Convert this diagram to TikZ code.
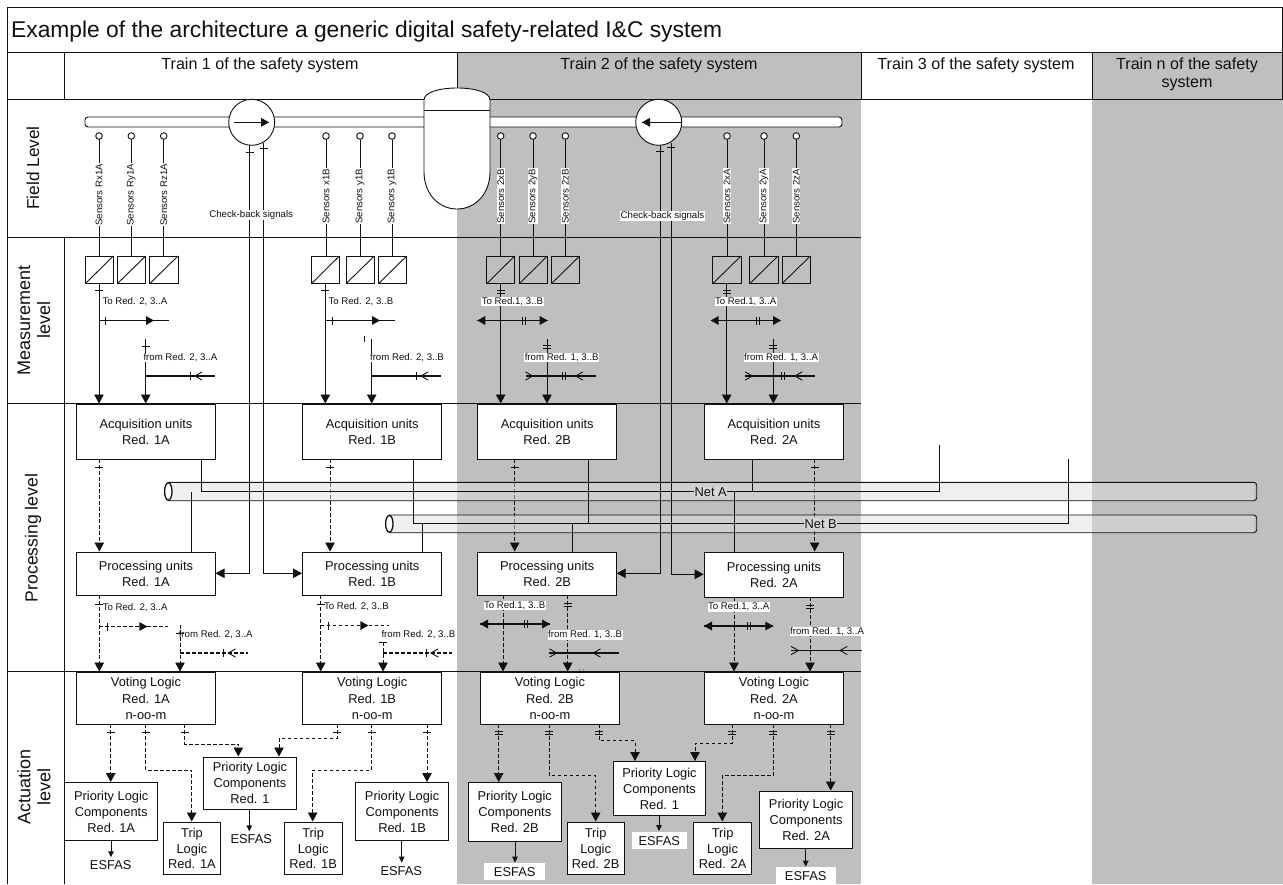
\documentclass[tikz,border=0pt]{standalone}
\usepackage{fontspec}
\setmainfont{Liberation Sans}
\usetikzlibrary{arrows.meta}
\definecolor{gb}{HTML}{BFBFBF}
\definecolor{ln}{HTML}{111111}
\definecolor{nb}{HTML}{D6D6D6}
\newcommand{\fs}[1]{\fontsize{#1pt}{#1pt}\selectfont}
\newcommand{\tickH}[2]{\draw[tk] (#1-4,#2) -- (#1+4,#2);}
\newcommand{\tickHH}[2]{\draw[tk] (#1-4,#2-1.5) -- (#1+4,#2-1.5) (#1-4,#2+1.5) -- (#1+4,#2+1.5);}
\newcommand{\tickV}[2]{\draw[tk] (#1,#2-4) -- (#1,#2+4);}
\newcommand{\tickVV}[2]{\draw[tk] (#1-1.5,#2-4) -- (#1-1.5,#2+4) (#1+1.5,#2-4) -- (#1+1.5,#2+4);}
\tikzset{
  x=1pt,y=-1pt,
  line/.style={draw=ln,line width=0.9pt},
  tk/.style={draw=ln,line width=0.7pt},
  boxn/.style={draw=ln,line width=0.9pt,fill=white,align=center,inner sep=0pt,font=\fs{12.85},text=ln},
  adc/.style={draw=ln,line width=0.9pt},
  lab/.style={font=\fs{9.65},inner sep=0.6pt,text=ln},
  labw/.style={lab,fill=white},
  hd/.style={font=\fs{16.1},align=center,text=ln},
  lev/.style={font=\fs{18},align=center,rotate=90,text=ln},
  esf/.style={font=\fs{12.85},text=ln},
  sv/.style={draw=ln,fill=white,line width=0.9pt,minimum size=6.6pt,inner sep=0pt,circle},
  fh/.style={-{Triangle[length=9pt,width=9.5pt]}},
  ah/.style={line,fh},
  da/.style={line,dash pattern=on 3.5pt off 2.5pt,fh},
  sa/.style={line,-{Triangle[length=6pt,width=5.5pt]}},
  thk/.style={draw=ln,line width=1.7pt},
  thd/.style={draw=ln,line width=1.3pt,dash pattern=on 3.5pt off 2.5pt},
  netl/.style={draw=ln,line width=0.9pt},
  nlab/.style={font=\fs{12.85},inner sep=0.5pt,fill=nb,text=ln},
  oh/.style={draw=ln,line width=0.9pt,line cap=round},
}
% filled tip
\newcommand{\fr}[2]{\fill[ln] (#1,#2) -- (#1-8,#2-4.5) -- (#1-8,#2+4.5) -- cycle;}
\newcommand{\fl}[2]{\fill[ln] (#1,#2) -- (#1+8,#2-4.5) -- (#1+8,#2+4.5) -- cycle;}
% open tips: tip at x, pointing left or right
\newcommand{\ol}[2]{\draw[oh] (#1+7,#2-4) -- (#1,#2) -- (#1+7,#2+4);}
\newcommand{\orr}[2]{\draw[oh] (#1-7,#2-4) -- (#1,#2) -- (#1-7,#2+4);}
\begin{document}
\begin{tikzpicture}
\useasboundingbox (0,0) rectangle (1283,884);
\fill[white] (0,0) rectangle (1283,884);
% columns
\fill[gb] (457,52.3) rectangle (861,884);
\fill[gb] (1092,52.3) rectangle (1283,884);
% frame
\draw[line] (7,884) -- (7,7) -- (1283,7);
\draw[line] (1282.5,7) -- (1282.5,99);
\draw[line] (7,52.3) -- (1283,52.3);
\draw[line] (7,99) -- (1283,99);
\draw[line] (7,237.7) -- (861,237.7);
\draw[line] (7,403.7) -- (861,403.7);
\draw[line] (7,671.7) -- (861,671.7);
\draw[line] (64,52.3) -- (64,99) (457,52.3) -- (457,99) (861,52.3) -- (861,99) (1092,52.3) -- (1092,99);
\draw[line] (64,237.7) -- (64,884);
% texts of the frame
\node[font=\fs{22.8},anchor=west,inner sep=0pt,text=ln] (title) at (11,31.5) {Example of the architecture a generic digital safety-related I\&C system};
\node[hd] (h1) at (260,65.5) {Train 1 of the safety system};
\node[hd] (h2) at (659,65.5) {Train 2 of the safety system};
\node[hd] (h3) at (976,65.5) {Train 3 of the safety system};
\node[hd] (h4) at (1187,74.5) {Train n of the safety\\[2pt]system};
\node[lev,font=\fs{17.3}] (l1) at (33,168) {Field Level};
\node[lev] (l2) at (34,320) {Measurement\\[2pt]level};
\node[lev,font=\fs{17.6}] (l3) at (33,538) {Processing level};
\node[lev] (l4) at (34,787) {Actuation\\[2pt]level};
% pipes
\draw[line,fill=white,rounded corners=3pt] (424,117) -- (85,117) -- (85,127) -- (424,127);
\draw[line,fill=white,rounded corners=3pt] (490,117) -- (842,117) -- (842,127) -- (490,127);
% vessel
\draw[line,fill=white] (424,100) .. controls (424,92) and (440,88) .. (457,88) .. controls (474,88) and (490,92) .. (490,100) -- (490,172) .. controls (490,193) and (476,209) .. (457,209) .. controls (438,209) and (424,193) .. (424,172) -- cycle;
\draw[line] (424,110) -- (490,110);
% pumps
\node[sv,minimum size=46pt] (pu1) at (251.7,122.3) {};
\node[sv,minimum size=46pt] (pu2) at (658.7,122.3) {};
\coordinate (a1s) at (234,122.3);
\coordinate (a1e) at (269,122.3);
\draw[line] (a1s) -- (a1e); \fr{269}{122.3}
\coordinate (a2s) at (682,122.3);
\coordinate (a2e) at (642,122.3);
\draw[line] (a2s) -- (a2e); \fl{642}{122.3}
% boxes
\node[boxn,minimum width=139pt,minimum height=55.6pt,anchor=north west] (aq1a) at (76,403.7) {Acquisition units\\[3pt]Red. 1A};
\node[boxn,minimum width=139pt,minimum height=55.6pt,anchor=north west] (aq1b) at (302.3,403.7) {Acquisition units\\[3pt]Red. 1B};
\node[boxn,minimum width=139pt,minimum height=55.6pt,anchor=north west] (aq2b) at (477.3,403.7) {Acquisition units\\[3pt]Red. 2B};
\node[boxn,minimum width=139pt,minimum height=55.6pt,anchor=north west] (aq2a) at (704,403.7) {Acquisition units\\[3pt]Red. 2A};
\node[boxn,minimum width=139pt,minimum height=43.3pt,anchor=north west] (pr1a) at (76,551.7) {Processing units\\[3pt]Red. 1A};
\node[boxn,minimum width=139pt,minimum height=43.3pt,anchor=north west] (pr1b) at (302.3,551.7) {Processing units\\[3pt]Red. 1B};
\node[boxn,minimum width=139pt,minimum height=43.3pt,anchor=north west] (pr2b) at (477.3,551.7) {Processing units\\[3pt]Red. 2B};
\node[boxn,minimum width=139pt,minimum height=45.3pt,anchor=north west] (pr2a) at (704,551.7) {Processing units\\[3pt]Red. 2A};
\node[boxn,minimum width=139pt,minimum height=52.6pt,anchor=north west] (vo1a) at (76,671.7) {Voting Logic\\[3.3pt]Red. 1A\\[3.3pt]n-oo-m};
\node[boxn,minimum width=139pt,minimum height=52.6pt,anchor=north west] (vo1b) at (302.3,671.7) {Voting Logic\\[3.3pt]Red. 1B\\[3.3pt]n-oo-m};
\node[boxn,minimum width=139pt,minimum height=52.6pt,anchor=north west] (vo2b) at (480,671.7) {Voting Logic\\[3.3pt]Red. 2B\\[3.3pt]n-oo-m};
\node[boxn,minimum width=139pt,minimum height=52.6pt,anchor=north west] (vo2a) at (704,671.7) {Voting Logic\\[3.3pt]Red. 2A\\[3.3pt]n-oo-m};
\node[boxn,minimum width=93pt,minimum height=57.7pt,anchor=north west] (pl1a) at (64.3,782.3) {Priority Logic\\[3pt]Components\\[3pt]Red. 1A};
\node[boxn,minimum width=92.4pt,minimum height=52pt,anchor=north west] (pl1) at (203.3,756.7) {Priority Logic\\[3pt]Components\\[3pt]Red. 1};
\node[boxn,minimum width=92.7pt,minimum height=57.7pt,anchor=north west] (pl1b) at (355.3,782.3) {Priority Logic\\[3pt]Components\\[3pt]Red. 1B};
\node[boxn,minimum width=92.7pt,minimum height=58.4pt,anchor=north west] (pl2b) at (468,782.3) {Priority Logic\\[3pt]Components\\[3pt]Red. 2B};
\node[boxn,minimum width=92.6pt,minimum height=54pt,anchor=north west] (pl2) at (612.7,761.3) {Priority Logic\\[3pt]Components\\[3pt]Red. 1};
\node[boxn,minimum width=92.7pt,minimum height=57.6pt,anchor=north west] (pl2a) at (759.3,790.7) {Priority Logic\\[3pt]Components\\[3pt]Red. 2A};
\node[boxn,minimum width=57.6pt,minimum height=52.6pt,anchor=north west] (tr1a) at (162.7,821.7) {Trip\\[3pt]Logic\\[3pt]Red. 1A};
\node[boxn,minimum width=58pt,minimum height=52.6pt,anchor=north west] (tr1b) at (283.7,821.7) {Trip\\[3pt]Logic\\[3pt]Red. 1B};
\node[boxn,minimum width=57pt,minimum height=52.6pt,anchor=north west] (tr2b) at (566.7,821.7) {Trip\\[3pt]Logic\\[3pt]Red. 2B};
\node[boxn,minimum width=57.7pt,minimum height=52.6pt,anchor=north west] (tr2a) at (693.3,821.7) {Trip\\[3pt]Logic\\[3pt]Red. 2A};
% ESFAS
\node[esf] (es1) at (110.7,865.3) {ESFAS};
\node[esf] (es2) at (251.3,839) {ESFAS};
\node[esf] (es3) at (401.3,870.7) {ESFAS};
\node[esf,fill=white,minimum width=60.7pt,minimum height=16.7pt,inner sep=0pt] (es4) at (514.7,871.7) {ESFAS};
\node[esf,fill=white,minimum width=54.7pt,minimum height=16.7pt,inner sep=0pt] (es5) at (659.3,840.7) {ESFAS};
\node[esf,fill=white,minimum width=60pt,minimum height=16.7pt,inner sep=0pt] (es6) at (805.7,875.7) {ESFAS};
\draw[sa] (111,840) -- (111,857.3);
\draw[sa] (249.3,808.7) -- (249.3,831.3);
\draw[sa] (401.7,840) -- (401.7,862.7);
\draw[sa] (515,840.7) -- (515,862.7);
\draw[sa] (659,815.3) -- (659,831);
\draw[sa] (805.7,848.3) -- (805.7,866.7);
% sensors
\foreach \n/\x/\t/\yy in {a/99/Sensors Rx1A/226.5,b/131.3/Sensors Ry1A/226.5,c/163.7/Sensors Rz1A/226.5,d/326/Sensors x1B/224.5,e/360/Sensors y1B/224.5,f/392/Sensors y1B/224.5,g/500.7/Sensors 2xB/224.5,h/533/Sensors 2yB/224.5,i/565.3/Sensors 2zB/224.5,j/727/Sensors 2xA/224.5,k/764/Sensors 2yA/224.5,l/796.3/Sensors 2zA/224.5}{
  \draw[line] (\x,136) -- (\x,256);
  \node[sv] (sv\n) at (\x,136) {};
  \node[labw,rotate=90,anchor=west] (st\n) at (\x,\yy) {\t};
}
% converters
\foreach \x/\w in {85.3/28,117.3/28.4,149.7/28.3,311.4/28,346/28.3,378.4/28.3,486.7/28,519.3/28,551.3/28.4,712.7/28.3,749.7/28.3,782/28.3}{
  \draw[adc] (\x,256) rectangle (\x+\w,283.7);
  \draw[adc] (\x,283.7) -- (\x+\w,256);
}
% measurement lines
\draw[ah] (99,283.7) -- (99,403.5);
\draw[ah] (145.7,339) -- (145.7,403.5);
\draw[ah] (325.3,283.7) -- (325.3,403.5);
\draw[ah] (371.7,339) -- (371.7,403.5);
\draw[ah] (500.7,283.7) -- (500.7,403.5);
\draw[ah] (547,339) -- (547,403.5);
\draw[ah] (726.7,283.7) -- (726.7,403.5);
\draw[ah] (773.3,339) -- (773.3,403.5);
\tickH{99}{290} \tickH{325.3}{290} \tickHH{500.7}{292} \tickHH{726.7}{292}
\tickH{145.7}{346} \tickHH{547}{347.3} \tickHH{773.3}{347.3}
\draw[tk] (364.7,336) -- (364.7,342);
% train1 measure
\draw[thk] (99,320.5) -- (169,320.5); \fr{154}{320.5} \tickV{105.7}{320.5}
\draw[thk] (325.3,320.5) -- (395,320.5); \fr{380}{320.5} \tickV{332.3}{320.5}
\draw[thk] (145.7,376) -- (215,376); \tickV{190.7}{376} \ol{195}{376}
\draw[thk] (371.7,376) -- (441,376); \tickV{416.7}{376} \ol{421}{376}
% train2 measure
\draw[thk] (477.3,320.5) -- (547.7,320.5); \fl{477.3}{320.5} \fr{547.7}{320.5} \tickVV{524.3}{320.5}
\draw[thk] (710.7,320.5) -- (781,320.5); \fl{710.7}{320.5} \fr{781}{320.5} \tickVV{757.7}{320.5}
\draw[thk] (525.7,376) -- (596,376); \orr{532.7}{376} \ol{575.7}{376} \tickVV{564}{376}
\draw[thk] (745,376) -- (815,376); \orr{752.3}{376} \ol{795}{376} \tickVV{783.3}{376}
\node[lab,anchor=west] (m1) at (101.7,301.7) {To Red. 2, 3..A};
\node[lab,anchor=west] (m2) at (327.7,301.7) {To Red. 2, 3..B};
\node[labw,anchor=west] (m3) at (142.7,357.7) {from Red. 2, 3..A};
\node[labw,anchor=west] (m4) at (369.3,357.7) {from Red. 2, 3..B};
\node[labw,anchor=west] (m5) at (481,301.7) {To Red.1, 3..B};
\node[labw,anchor=west] (m6) at (714.3,301.7) {To Red.1, 3..A};
\node[labw,anchor=west] (m7) at (524,357.7) {from Red. 1, 3..B};
\node[labw,anchor=west] (m8) at (743.3,357.7) {from Red. 1, 3..A};
% acq -> proc
\draw[da] (99.3,459.3) -- (99.3,551.5);
\draw[da] (330,459.3) -- (330,551.5);
\draw[da] (514.7,459.3) -- (514.7,551.5);
\draw[da] (814.7,459.3) -- (814.7,551.5);
\tickH{99.3}{467} \tickH{330}{467} \tickH{514.7}{467} \tickH{814.7}{467}
% nets
\fill[black!12,opacity=.48] (168.3,482.3) rectangle (1254,500.7);
\fill[black!12,opacity=.48] (389.3,515) rectangle (1254,532.7);
\draw[line,rounded corners=3pt] (168.3,482.3) -- (1256.7,482.3) -- (1256.7,500.7) -- (168.3,500.7);
\draw[line,rounded corners=3pt] (389.3,515) -- (1256.7,515) -- (1256.7,532.7) -- (389.3,532.7);
\draw[draw=ln,line width=1.3pt,fill=white] (168.3,491.5) ellipse [x radius=3.7,y radius=8.7];
\draw[draw=ln,line width=1.3pt,fill=white] (389.3,523.8) ellipse [x radius=3.7,y radius=8.4];
% net connections
\draw[netl] (201,459.3) -- (201,491.7) -- (939.3,491.7) -- (939.3,445);
\draw[netl] (191.7,551.7) -- (191.7,491.7);
\draw[netl] (588.3,459.3) -- (588.3,523.7);
\draw[netl] (752.7,459.3) -- (752.7,491.7);
\draw[netl] (734,551.7) -- (734,491.7);
\draw[netl] (413.3,459.3) -- (413.3,523.7) -- (1068.3,523.7) -- (1068.3,459);
\draw[netl] (422.3,551.7) -- (422.3,523.7);
\draw[netl] (572.3,551.7) -- (572.3,523.7);
\node[nlab] (neta) at (710.7,491.7) {Net A};
\node[nlab] (netb) at (820.7,523.7) {Net B};
% check back
\draw[ah] (249.7,145) -- (249.7,573.3) -- (215.5,573.3);
\draw[ah] (263.7,143) -- (263.7,573.3) -- (302,573.3);
\draw[ah] (660.3,145) -- (660.3,573.3) -- (616.7,573.3);
\draw[ah] (671,143) -- (671,574.3) -- (703.7,574.3);
\tickH{249.7}{152} \tickH{263.7}{148.3} \tickH{660.3}{151.7} \tickH{671}{147.3}
\node[labw] (cb1) at (251.2,214.7) {Check-back signals};
\node[labw] (cb2) at (662.5,215.7) {Check-back signals};
% proc -> vote
\draw[da] (99.3,595) -- (99.3,671.5); \tickH{99.3}{604.3}
\draw[da] (180,625) -- (180,671.5); \tickH{180}{633}
\draw[da] (320.7,595) -- (320.7,671.5); \tickH{320.7}{604.3}
\draw[da] (383,642.3) -- (383,671.5); \tickH{383}{642.7}
\draw[da] (503,595) -- (503,671.5);
\draw[da] (567.7,595) -- (567.7,671.5); \tickHH{567.7}{605}
\draw[da] (734,597) -- (734,671.5);
\draw[da] (810,597) -- (810,671.5); \tickHH{810}{607.3}
\draw[thd] (99.3,626.5) -- (168.3,626.5); \fr{147.3}{626.5} \tickV{107.3}{626.5}
\draw[thd] (320.7,625.5) -- (389.3,625.5); \fr{368.3}{625.5} \tickV{328.3}{625.5}
\draw[thd] (180,653) -- (248.3,653); \ol{228.3}{653} \tickV{223.7}{653}
\draw[thd] (383,653) -- (451.7,653); \ol{431}{653} \tickV{426.7}{653}
\draw[draw=ln,line width=1.2pt] (480,624) -- (550,624); \fl{480}{624} \fr{550}{624} \tickVV{525.7}{624}
\draw[draw=ln,line width=1.2pt] (704,626) -- (773.3,626); \fl{704}{626} \fr{773.3}{626} \tickVV{749.3}{626}
\draw[thk] (549,653) -- (619,653); \orr{556.7}{653} \ol{593.3}{653}
\draw[thk] (791,650.5) -- (861.7,650.5); \orr{798.3}{650.5} \ol{840}{650.5}
\node[lab,anchor=west] (p1) at (102,607.7) {To Red. 2, 3..A};
\node[lab,anchor=west] (p2) at (323.3,606.7) {To Red. 2, 3..B};
\node[lab,anchor=west] (p3) at (178,634.3) {from Red. 2, 3..A};
\node[lab,anchor=west] (p4) at (380.7,634.3) {from Red. 2, 3..B};
\node[labw,anchor=west] (p5) at (483.3,605.3) {To Red.1, 3..B};
\node[labw,anchor=west] (p6) at (707.3,607) {To Red.1, 3..A};
\node[labw,anchor=west] (p7) at (547.3,635) {from Red. 1, 3..B};
\node[labw,anchor=west] (p8) at (789.3,631.7) {from Red. 1, 3..A};
\fill[ln] (579.5,669.8) circle (.5) (583,669.8) circle (.5);
% actuation dashed
\draw[da] (110.7,724.3) -- (110.7,782); \tickH{110.7}{732.3}
\draw[da] (145.7,724.3) -- (145.7,770) -- (191.7,770) -- (191.7,821.5); \tickH{145.7}{732.3}
\draw[da] (184.7,724.3) -- (184.7,744) -- (238.3,744) -- (238.3,756.5); \tickH{184.7}{732.3}
\draw[da] (337.3,724.3) -- (337.3,738.3) -- (279,738.3) -- (279,756.5); \tickH{337.3}{732.3}
\draw[da] (371.7,724.3) -- (371.7,770) -- (312.7,770) -- (312.7,821.5); \tickH{371.7}{732.3}
\draw[da] (427,724.3) -- (427,782); \tickH{427}{732.3}
\draw[da] (498.7,724.3) -- (498.7,782); \tickHH{498.7}{733.3}
\draw[da] (549.3,724.3) -- (549.3,775.7) -- (595.7,775.7) -- (595.7,821.5); \tickHH{549.3}{733.3}
\draw[da] (599.3,724.3) -- (599.3,740.7) -- (635,740.7) -- (635,761); \tickHH{599.3}{733.3}
\draw[da] (732,724.3) -- (732,743.3) -- (695,743.3) -- (695,761); \tickHH{732}{733.3}
\draw[da] (773.3,724.3) -- (773.3,775.7) -- (722.3,775.7) -- (722.3,821.5); \tickHH{773.3}{733.3}
\draw[da] (830.7,724.3) -- (830.7,790.5); \tickHH{830.7}{733.3}
\end{tikzpicture}
\end{document}
